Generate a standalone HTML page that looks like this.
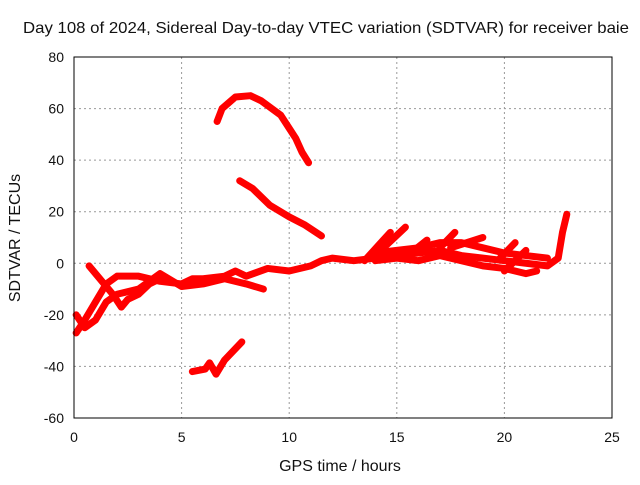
<!DOCTYPE html>
<html><head><meta charset="utf-8"><style>
body{margin:0;background:#fff}
svg text{font-family:"Liberation Sans",sans-serif;font-size:14px;fill:#111}
svg text.big{font-size:16px}
</style></head><body>
<svg id="chart" width="640" height="480" xmlns="http://www.w3.org/2000/svg">
<text class="big" x="326" y="33" text-anchor="middle" textLength="606" lengthAdjust="spacingAndGlyphs">Day 108 of 2024, Sidereal Day-to-day VTEC variation (SDTVAR) for receiver baie</text>
<text class="big" x="340" y="471" text-anchor="middle">GPS time / hours</text>
<text class="big" x="0" y="0" text-anchor="middle" transform="translate(20,238) rotate(-90)">SDTVAR / TECUs</text>
<g id="grid"></g><g id="series"></g><g id="axes"></g>
</svg>
<script>
const xTicks=[0,5,10,15,20,25];
const yTicks=[-60,-40,-20,0,20,40,60,80];
const arcHours=[6.65,6.88,7.5,8.2,8.7,9.6,10.3,10.6,10.9];
const arcValues=[55,60,64.5,65,63,57.5,48.5,43,39];
const declineHours=[7.7,8.3,9.1,10.0,10.7,11.5];
const declineValues=[32,29,22.5,18,15,10.6];
const lowHours=[5.5,6.1,6.3,6.6,7.0,7.8];
const lowValues=[-42,-41,-38.6,-43,-37.5,-30.5];
const mainHours=[0.1,0.5,1,1.5,2,3,4,5,5.5,6,7,7.5,8,9,10,11,11.5,12,13,14,15,16,17,18,19,20,21,22,22.5,22.7,22.9];
const mainValues=[-27,-22,-15,-8,-5,-5,-7,-8,-6,-6,-5,-3,-5,-2,-3,-1,1,2,1,2,3,4,5,3,2,1,0,-1,2,12,19];
const morningHours=[0.1,0.5,1,1.5,2,3,4,5,6,7,8,8.8];
const morningValues=[-20,-25,-22,-15,-12,-10,-4,-9,-8,-6,-8,-10];
const dipHours=[0.7,1.2,1.8,2.2,2.5,3,3.5,4];
const dipValues=[-1,-6,-12,-17,-14,-12,-8,-6];
const upperHours=[14,15,16,17,18,19,20,21,22];
const upperValues=[4,5,6,8,8,6,4,3,2];
const lowerHours=[14,15,16,17,18,19,20,21,21.5];
const lowerValues=[1,2,1,3,1,-1,-2,-4,-3];
const streakStartH=[13.5,14,15.5,17,17.5,19.8,20];
const streakStartV=[1,3,3,6,6,2,-3];
const streakEndH=[14.7,15.4,16.4,17.7,19,20.5,21];
const streakEndV=[12,14,9,12,10,8,5];
const X=h=>74+h*(538/25);
const Y=v=>57+(80-v)*(361/140);
const NS="http://www.w3.org/2000/svg";
const grid=document.getElementById('grid'),axes=document.getElementById('axes'),ser=document.getElementById('series');
function mk(tag,attrs,parent){const e=document.createElementNS(NS,tag);for(const k in attrs)e.setAttribute(k,attrs[k]);parent.appendChild(e);return e;}
xTicks.forEach(t=>{
 if(t>0&&t<25){const l=mk('line',{x1:X(t),x2:X(t),y1:57,y2:418,stroke:'#999','stroke-dasharray':'2,3'},grid);
 
 }
 const tx=mk('text',{x:X(t),y:442,'text-anchor':'middle'},axes);tx.textContent=t;
 
 
});
yTicks.forEach(t=>{
 if(t>-60&&t<80){const l=mk('line',{x1:74,x2:612,y1:Y(t),y2:Y(t),stroke:'#999','stroke-dasharray':'2,3'},grid);
 
 }
 const tx=mk('text',{x:64,y:Y(t)+5,'text-anchor':'end'},axes);tx.textContent=t;
 
 
});
const frame=mk('rect',{x:74,y:57,width:538,height:361,fill:'none',stroke:'#000'},axes);


function line(hs,vs,name){
 const p=mk('polyline',{points:hs.map((h,i)=>X(h)+','+Y(vs[i])).join(' '),fill:'none',stroke:'#f00','stroke-width':7,'stroke-linejoin':'round','stroke-linecap':'round'},ser);
 
 
}
line(arcHours,arcValues,'series-arc');
line(declineHours,declineValues,'series-decline');
line(lowHours,lowValues,'series-low');
line(mainHours,mainValues,'series-main');
line(morningHours,morningValues,'series-morning');
line(dipHours,dipValues,'series-dip');
line(upperHours,upperValues,'series-upper');
line(lowerHours,lowerValues,'series-lower');
streakStartH.forEach((h,i)=>line([h,streakEndH[i]],[streakStartV[i],streakEndV[i]],'series-streak'));
</script>
</body></html>
